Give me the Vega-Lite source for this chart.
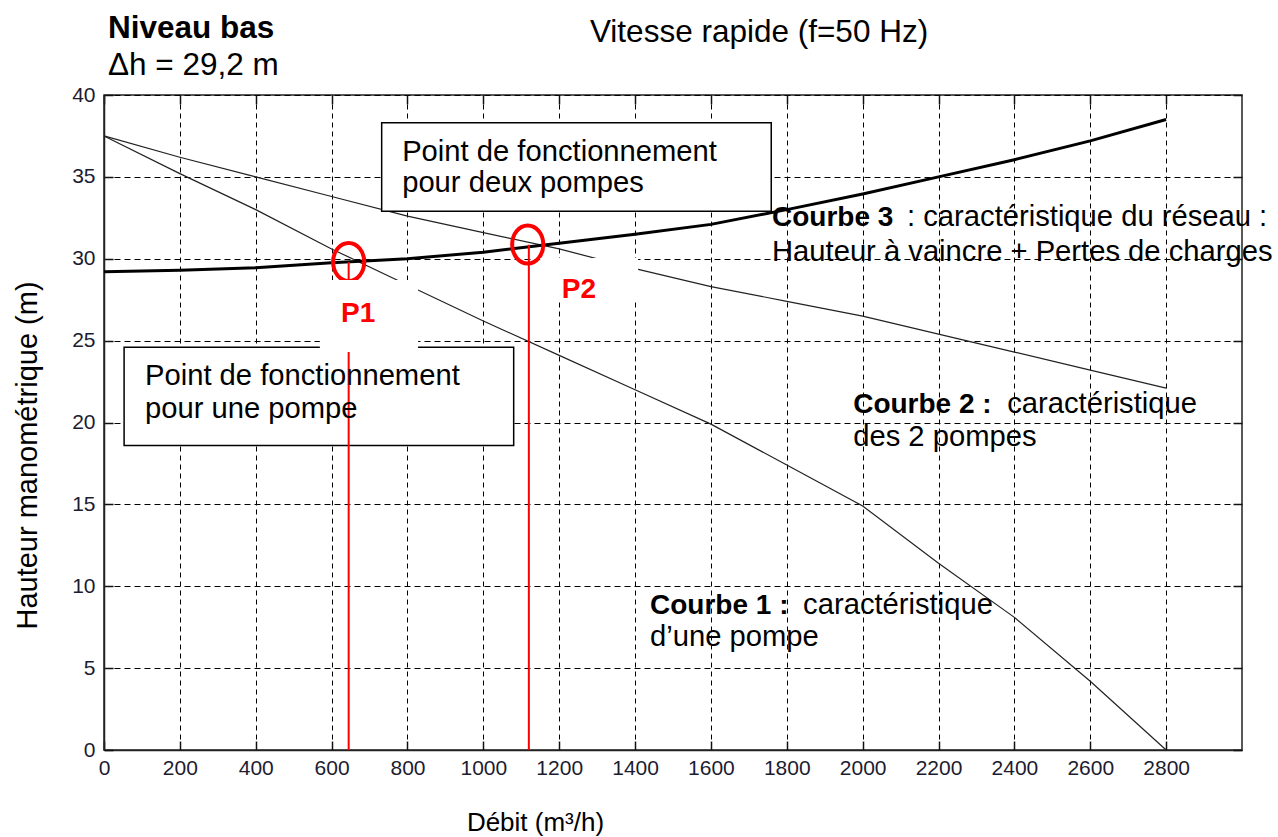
{
  "$schema": "https://vega.github.io/schema/vega-lite/v6.json",
  "autosize": {"type": "none"},
  "padding": {"left": 104, "top": 95, "right": 36, "bottom": 87},
  "width": 1138,
  "height": 655,
  "background": "white",
  "resolve": {"axis": {"x": "independent", "y": "independent"}},
  "config": {
    "view": {"stroke": "#222", "strokeWidth": 1.5},
    "font": "Liberation Sans",
    "text": {"font": "Liberation Sans"},
    "axisX": {
      "titleX": 431, "titleY": 72, "titleBaseline": "middle", "titleAlign": "center",
      "titleFont": "Liberation Sans", "titleFontSize": 26, "titleFontWeight": "normal", "titleColor": "black",
      "labelFont": "Liberation Sans", "labelFontSize": 21, "labelColor": "#1c1c30", "labelPadding": 16,
      "labelFlush": false, "labelOverlap": false,
      "grid": true, "gridDash": [5, 4], "gridColor": "black", "gridOpacity": 1, "gridWidth": 1,
      "ticks": true, "tickSize": -9, "tickColor": "#111", "tickWidth": 1.5,
      "domainColor": "#222", "domainWidth": 1.5
    },
    "axisY": {
      "titleX": -77, "titleY": 360, "titleBaseline": "middle", "titleAlign": "center", "titleAngle": -90,
      "titleFont": "Liberation Sans", "titleFontSize": 29, "titleFontWeight": "normal", "titleColor": "black",
      "labelFont": "Liberation Sans", "labelFontSize": 21, "labelColor": "#1c1c30", "labelPadding": 18,
      "labelFlush": false, "labelOverlap": false,
      "grid": true, "gridDash": [6, 4], "gridColor": "black", "gridOpacity": 1, "gridWidth": 1,
      "ticks": true, "tickSize": -9, "tickColor": "#111", "tickWidth": 1.5,
      "domainColor": "#222", "domainWidth": 1.5
    }
  },
  "datasets": {
    "curves": [
      {"s": "c1", "x": 0, "y": 37.5}, {"s": "c1", "x": 200, "y": 35.2}, {"s": "c1", "x": 400, "y": 33.0},
      {"s": "c1", "x": 600, "y": 30.6}, {"s": "c1", "x": 800, "y": 28.4}, {"s": "c1", "x": 1000, "y": 26.2},
      {"s": "c1", "x": 1200, "y": 24.1}, {"s": "c1", "x": 1400, "y": 22.0}, {"s": "c1", "x": 1600, "y": 19.9},
      {"s": "c1", "x": 1800, "y": 17.4}, {"s": "c1", "x": 2000, "y": 14.9}, {"s": "c1", "x": 2200, "y": 11.4},
      {"s": "c1", "x": 2400, "y": 8.1}, {"s": "c1", "x": 2600, "y": 4.2}, {"s": "c1", "x": 2800, "y": 0},
      {"s": "c2", "x": 0, "y": 37.5}, {"s": "c2", "x": 200, "y": 36.2}, {"s": "c2", "x": 400, "y": 35.0},
      {"s": "c2", "x": 600, "y": 33.8}, {"s": "c2", "x": 800, "y": 32.6}, {"s": "c2", "x": 1000, "y": 31.6},
      {"s": "c2", "x": 1200, "y": 30.6}, {"s": "c2", "x": 1400, "y": 29.4}, {"s": "c2", "x": 1600, "y": 28.3},
      {"s": "c2", "x": 1800, "y": 27.4}, {"s": "c2", "x": 2000, "y": 26.5}, {"s": "c2", "x": 2200, "y": 25.4},
      {"s": "c2", "x": 2400, "y": 24.3}, {"s": "c2", "x": 2600, "y": 23.2}, {"s": "c2", "x": 2800, "y": 22.1},
      {"s": "c3", "x": 0, "y": 29.2}, {"s": "c3", "x": 200, "y": 29.3}, {"s": "c3", "x": 400, "y": 29.45},
      {"s": "c3", "x": 600, "y": 29.75}, {"s": "c3", "x": 800, "y": 30.0}, {"s": "c3", "x": 1000, "y": 30.4},
      {"s": "c3", "x": 1200, "y": 30.95}, {"s": "c3", "x": 1400, "y": 31.5}, {"s": "c3", "x": 1600, "y": 32.1},
      {"s": "c3", "x": 1800, "y": 33.0}, {"s": "c3", "x": 2000, "y": 33.95}, {"s": "c3", "x": 2200, "y": 35.0},
      {"s": "c3", "x": 2400, "y": 36.05}, {"s": "c3", "x": 2600, "y": 37.2}, {"s": "c3", "x": 2800, "y": 38.5}
    ],
    "boxes": [
      {"x": 732, "x2": 1759, "y": 38.3, "y2": 32.9},
      {"x": 53, "x2": 1080, "y": 24.6, "y2": 18.6}
    ],
    "masks": [
      {"x": 569, "x2": 828, "y": 28.7, "y2": 24.3},
      {"x": 1150, "x2": 1408, "y": 30.05, "y2": 27.5}
    ],
    "redlines": [
      {"p": "P1", "x": 645, "y": 0, "y2": 29.8},
      {"p": "P2", "x": 1120, "y": 0, "y2": 30.85}
    ],
    "points": [
      {"p": "P1", "x": 645, "y": 29.8},
      {"p": "P2", "x": 1117, "y": 30.87}
    ],
    "normaltext": [
      {"t": "Point de fonctionnement", "x": 786, "y": 35.97},
      {"t": "pour deux pompes", "x": 786, "y": 34.08},
      {"t": "Point de fonctionnement", "x": 108, "y": 22.29},
      {"t": "pour une pompe", "x": 108, "y": 20.27},
      {"t": ": caractéristique du réseau :", "x": 2117, "y": 32.0},
      {"t": "Hauteur à vaincre + Pertes de charges", "x": 1761, "y": 29.86},
      {"t": "caractéristique", "x": 2381, "y": 20.58},
      {"t": "des 2 pompes", "x": 1975, "y": 18.56},
      {"t": "caractéristique", "x": 1843, "y": 8.31},
      {"t": "d’une pompe", "x": 1439.5, "y": 6.35}
    ],
    "titletext": [
      {"t": "Vitesse rapide (f=50 Hz)", "x": 1281, "y": 43.24},
      {"t": "Δh = 29,2 m", "x": 10.5, "y": 41.22}
    ],
    "titlebold": [
      {"t": "Niveau bas", "x": 10.5, "y": 43.48}
    ],
    "boldtext": [
      {"t": "Courbe 3", "x": 1761, "y": 32.0},
      {"t": "Courbe 2 :", "x": 1975, "y": 20.58},
      {"t": "Courbe 1 :", "x": 1439.5, "y": 8.31}
    ],
    "redtext": [
      {"t": "P1", "x": 625, "y": 26.14},
      {"t": "P2", "x": 1207, "y": 27.6}
    ]
  },
  "layer": [
    {
      "data": {"name": "curves"},
      "transform": [{"filter": "datum.s !== 'c3'"}],
      "mark": {"type": "line", "color": "#222", "strokeWidth": 1.2},
      "encoding": {
        "detail": {"field": "s"},
        "x": {
          "field": "x", "type": "quantitative", "title": "Débit (m³/h)",
          "scale": {"domain": [0, 3000], "nice": false, "zero": false},
          "axis": {"values": [0, 200, 400, 600, 800, 1000, 1200, 1400, 1600, 1800, 2000, 2200, 2400, 2600, 2800], "format": "d", "orient": "bottom"}
        },
        "y": {
          "field": "y", "type": "quantitative", "title": "Hauteur manométrique  (m)",
          "scale": {"domain": [0, 40], "nice": false, "zero": false},
          "axis": {"values": [0, 5, 10, 15, 20, 25, 30, 35, 40], "format": "d", "orient": "left"}
        }
      }
    },
    {
      "data": {"name": "curves"},
      "transform": [{"filter": "datum.s === 'c3'"}],
      "mark": {"type": "line", "color": "black", "strokeWidth": 3},
      "encoding": {
        "x": {
          "field": "x", "type": "quantitative",
          "axis": {"orient": "top", "values": [0, 200, 400, 600, 800, 1000, 1200, 1400, 1600, 1800, 2000, 2200, 2400, 2600, 2800], "labels": false, "title": null, "grid": false, "domain": false}
        },
        "y": {
          "field": "y", "type": "quantitative",
          "axis": {"orient": "right", "values": [0, 5, 10, 15, 20, 25, 30, 35, 40], "labels": false, "title": null, "grid": false, "domain": false}
        }
      }
    },
    {
      "data": {"name": "boxes"},
      "mark": {"type": "rect", "fill": "white", "stroke": "black", "strokeWidth": 1.5},
      "encoding": {
        "x": {"field": "x", "type": "quantitative", "axis": null},
        "x2": {"field": "x2"},
        "y": {"field": "y", "type": "quantitative", "axis": null},
        "y2": {"field": "y2"}
      }
    },
    {
      "data": {"name": "redlines"},
      "mark": {"type": "rule", "color": "red", "strokeWidth": 2},
      "encoding": {
        "x": {"field": "x", "type": "quantitative", "axis": null},
        "y": {"field": "y", "type": "quantitative", "axis": null},
        "y2": {"field": "y2"}
      }
    },
    {
      "data": {"name": "points"},
      "mark": {
        "type": "point",
        "shape": "M -0.82 0 A 0.82 1 0 1 1 0.82 0 A 0.82 1 0 1 1 -0.82 0 Z",
        "size": 1444, "filled": false, "stroke": "red", "strokeWidth": 4, "opacity": 1
      },
      "encoding": {
        "x": {"field": "x", "type": "quantitative", "axis": null},
        "y": {"field": "y", "type": "quantitative", "axis": null}
      }
    },
    {
      "data": {"name": "masks"},
      "mark": {"type": "rect", "fill": "white", "strokeWidth": 0},
      "encoding": {
        "x": {"field": "x", "type": "quantitative", "axis": null},
        "x2": {"field": "x2"},
        "y": {"field": "y", "type": "quantitative", "axis": null},
        "y2": {"field": "y2"}
      }
    },
    {
      "data": {"name": "normaltext"},
      "mark": {"type": "text", "align": "left", "baseline": "alphabetic", "fontSize": 29.2, "color": "black", "font": "Liberation Sans"},
      "encoding": {
        "x": {"field": "x", "type": "quantitative", "axis": null},
        "y": {"field": "y", "type": "quantitative", "axis": null},
        "text": {"field": "t"}
      }
    },
    {
      "data": {"name": "titletext"},
      "mark": {"type": "text", "align": "left", "baseline": "alphabetic", "fontSize": 31.5, "color": "black", "font": "Liberation Sans"},
      "encoding": {
        "x": {"field": "x", "type": "quantitative", "axis": null},
        "y": {"field": "y", "type": "quantitative", "axis": null},
        "text": {"field": "t"}
      }
    },
    {
      "data": {"name": "titlebold"},
      "mark": {"type": "text", "align": "left", "baseline": "alphabetic", "fontSize": 31.5, "fontWeight": "bold", "color": "black", "font": "Liberation Sans"},
      "encoding": {
        "x": {"field": "x", "type": "quantitative", "axis": null},
        "y": {"field": "y", "type": "quantitative", "axis": null},
        "text": {"field": "t"}
      }
    },
    {
      "data": {"name": "boldtext"},
      "mark": {"type": "text", "align": "left", "baseline": "alphabetic", "fontSize": 28, "fontWeight": "bold", "color": "black", "font": "Liberation Sans"},
      "encoding": {
        "x": {"field": "x", "type": "quantitative", "axis": null},
        "y": {"field": "y", "type": "quantitative", "axis": null},
        "text": {"field": "t"}
      }
    },
    {
      "data": {"name": "redtext"},
      "mark": {"type": "text", "align": "left", "baseline": "alphabetic", "fontSize": 28, "fontWeight": "bold", "color": "red", "font": "Liberation Sans"},
      "encoding": {
        "x": {"field": "x", "type": "quantitative", "axis": null},
        "y": {"field": "y", "type": "quantitative", "axis": null},
        "text": {"field": "t"}
      }
    }
  ]
}
